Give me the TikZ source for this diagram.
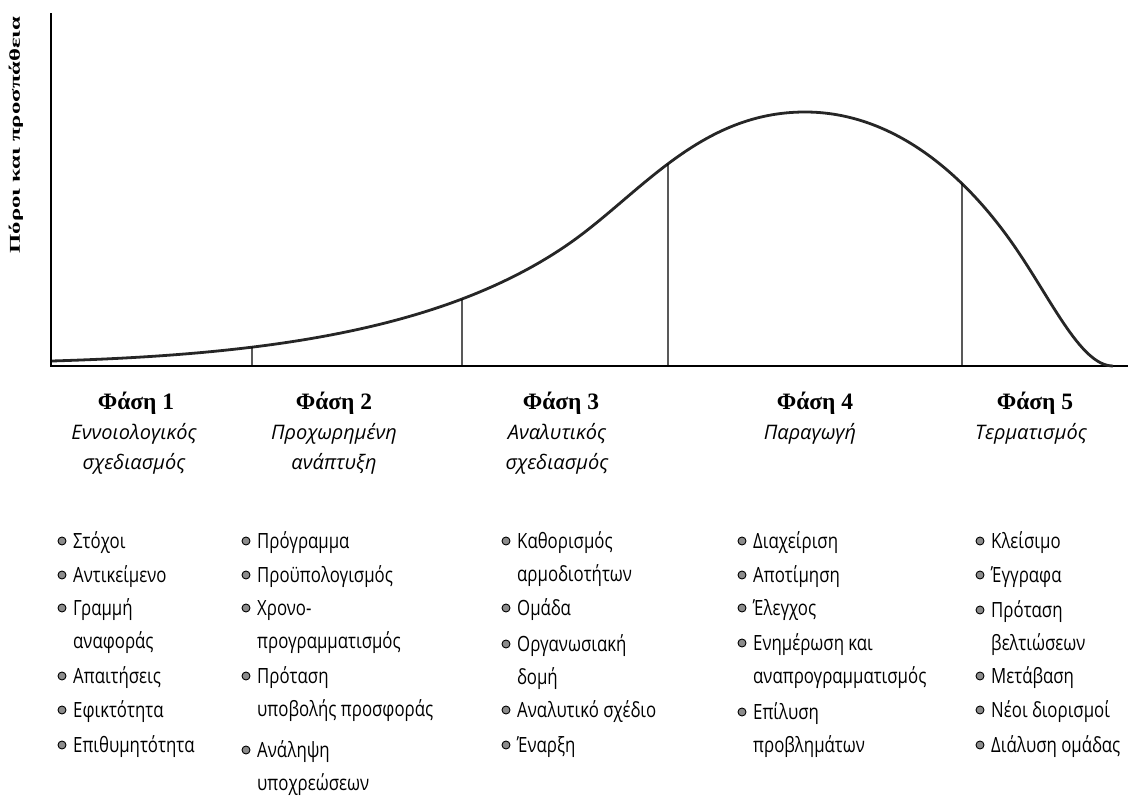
\documentclass[tikz,border=0pt]{standalone}
\usepackage{fontspec}
\setmainfont{Liberation Serif}
\newfontfamily\subfont{Open Sans}
\newfontfamily\itemfont[FakeStretch=0.8]{Open Sans}
\usetikzlibrary{intersections}
\tikzset{
  axis/.style={line width=2.6pt, line cap=rect},
  curveline/.style={line width=2.8pt, black!85},
  divider/.style={line width=1.3pt},
  phase/.style={anchor=base, font=\fontsize{23.5}{26}\selectfont\bfseries, inner sep=0pt},
  phasesub/.style={anchor=base, font=\subfont\itshape\fontsize{20}{30}\selectfont, inner sep=0pt},
  itemtext/.style={anchor=base west, font=\itemfont\fontsize{21}{33}\selectfont, inner sep=0pt},
  dot/.style={circle, draw=black, fill=black!45, line width=0.9pt, minimum size=8pt, inner sep=0pt},
  ylabel/.style={rotate=90, font=\fontsize{15}{15}\selectfont\bfseries, inner sep=0pt}
}
% text blocks whose baseline is that of their first line
\newcommand{\leftlines}[1]{\begin{tabular}[t]{@{}l@{}}#1\end{tabular}}
\newcommand{\centerlines}[1]{\begin{tabular}[t]{@{}c@{}}#1\end{tabular}}
\newcommand{\bulletitem}[4]{% name, x, baseline, text
  \node[itemtext] (#1) at (#2+11,#3) {\leftlines{#4}};
  \node[dot] (#1d) at (#2,#3-7) {};
}
\begin{document}
\begin{tikzpicture}[x=1pt, y=-1pt]
\useasboundingbox (0,0) rectangle (1138,802);

% axes
\coordinate (O) at (51,366);
\coordinate (ytop) at (51,14);
\coordinate (xend) at (1127,366);
\draw[axis] (ytop) -- (O) -- (xend);
\node[ylabel] (ylab) at (16,135) {\scalebox{1.65}[1]{Πόροι και προσπάθεια}};

% effort curve over the project life cycle
\draw[curveline, name path=curve]
  (52,361) .. controls (250,355) and (440,334) .. (570,243)
           .. controls (640,194) and (700,112) .. (805,112)
           .. controls (890,112) and (960,170) .. (1010,240)
           .. controls (1050,296) and (1080,366) .. (1113,366);

% phase dividers, from the axis up to the curve
\foreach \i/\x in {1/252, 2/462, 3/668, 4/962}{
  \path[name path=v\i] (\x,366) -- (\x,60);
  \path[name intersections={of=curve and v\i}] coordinate (top\i) at (intersection-1);
  \coordinate (bot\i) at (\x,366);
  \draw[divider] (bot\i) -- (top\i);
}

% phase titles
\node[phase] (ph1) at (136,409) {Φάση 1};
\node[phase] (ph2) at (334,409) {Φάση 2};
\node[phase] (ph3) at (561,409) {Φάση 3};
\node[phase] (ph4) at (815,409) {Φάση 4};
\node[phase] (ph5) at (1035,409) {Φάση 5};

\node[phasesub] (s1) at (134,439) {\centerlines{Εννοιολογικός\\σχεδιασμός}};
\node[phasesub] (s2) at (334,439) {\centerlines{Προχωρημένη\\ανάπτυξη}};
\node[phasesub] (s3) at (557,439) {\centerlines{Αναλυτικός\\σχεδιασμός}};
\node[phasesub] (s4) at (810,439) {Παραγωγή};
\node[phasesub] (s5) at (1031,439) {Τερματισμός};

% phase 1
\bulletitem{a1}{62}{548}{Στόχοι}
\bulletitem{a2}{62}{582}{Αντικείμενο}
\bulletitem{a3}{62}{615}{Γραμμή\\αναφοράς}
\bulletitem{a4}{62}{683}{Απαιτήσεις}
\bulletitem{a5}{62}{717}{Εφικτότητα}
\bulletitem{a6}{62}{752}{Επιθυμητότητα}

% phase 2
\bulletitem{b1}{246}{548}{Πρόγραμμα}
\bulletitem{b2}{246}{582}{Προϋπολογισμός}
\bulletitem{b3}{246}{615}{Χρονο-\\προγραμματισμός}
\bulletitem{b4}{246}{683}{Πρόταση\\υποβολής προσφοράς}
\bulletitem{b5}{246}{757}{Ανάληψη\\υποχρεώσεων}

% phase 3
\bulletitem{c1}{506}{548}{Καθορισμός\\αρμοδιοτήτων}
\bulletitem{c2}{506}{615}{Ομάδα}
\bulletitem{c3}{506}{651}{Οργανωσιακή\\δομή}
\bulletitem{c4}{506}{717}{Αναλυτικό σχέδιο}
\bulletitem{c5}{506}{752}{Έναρξη}

% phase 4
\bulletitem{d1}{742}{548}{Διαχείριση}
\bulletitem{d2}{742}{582}{Αποτίμηση}
\bulletitem{d3}{742}{615}{Έλεγχος}
\bulletitem{d4}{742}{650}{Ενημέρωση και\\αναπρογραμματισμός}
\bulletitem{d5}{742}{719}{Επίλυση\\προβλημάτων}

% phase 5
\bulletitem{e1}{980}{548}{Κλείσιμο}
\bulletitem{e2}{980}{582}{Έγγραφα}
\bulletitem{e3}{980}{617}{Πρόταση\\βελτιώσεων}
\bulletitem{e4}{980}{683}{Μετάβαση}
\bulletitem{e5}{980}{717}{Νέοι διορισμοί}
\bulletitem{e6}{980}{752}{Διάλυση ομάδας}
\end{tikzpicture}
\end{document}
